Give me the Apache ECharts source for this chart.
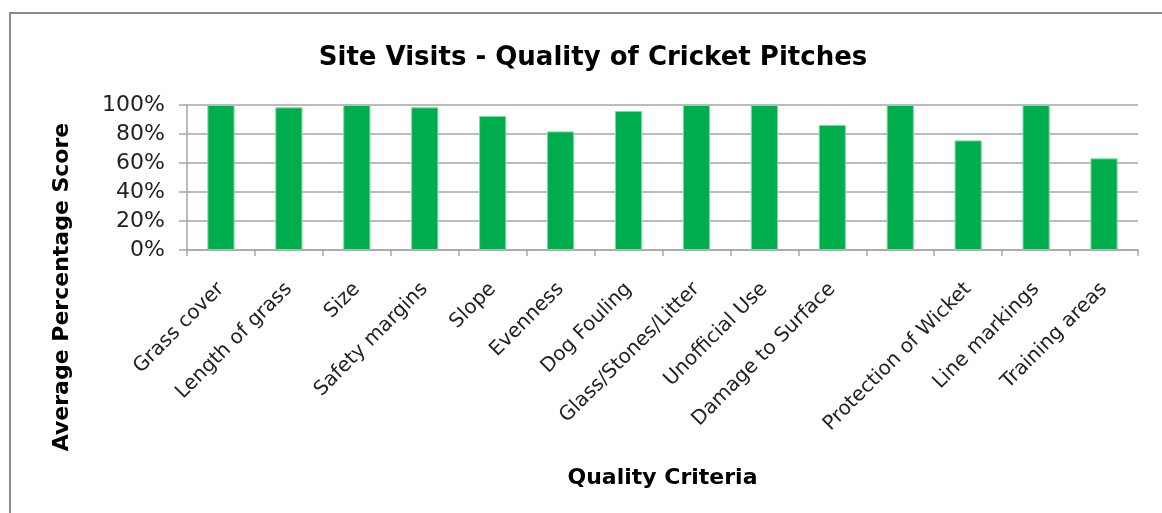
<!DOCTYPE html>
<html>
<head>
<meta charset="utf-8">
<script src="https://cdn.jsdelivr.net/npm/echarts@6/dist/echarts.min.js"></script>
<style>
html,body{margin:0;padding:0;background:#fff;}
#chart{width:1162px;height:513px;}
</style>
</head>
<body>
<div id="chart"></div>
<script>
const categories = ["Grass cover","Length of grass","Size","Safety margins","Slope","Evenness","Dog Fouling","Glass/Stones/Litter","Unofficial Use","Damage to Surface","","Protection of Wicket","Line markings","Training areas"];
const scores = [100, 98.4, 100, 98.4, 92.4, 81.8, 95.9, 100, 100, 86.2, 100, 75.6, 100, 63.2];
const yTicks = [0, 20, 40, 60, 80, 100];

const chart = echarts.init(document.getElementById('chart'));
const FONT = 'DejaVu Sans';
chart.setOption({
  animation: false,
  backgroundColor: '#fff',
  graphic: [{
    type: 'rect',
    shape: {x: 10, y: 13, width: 1300, height: 700},
    style: {fill: 'none', stroke: '#8c8c8c', lineWidth: 2},
    silent: true, z: -1
  }, {
    type: 'text',
    x: 62, y: 287, rotation: Math.PI / 2,
    style: {
      text: 'Average Percentage Score',
      font: 'bold 22px "DejaVu Sans"', fill: '#000',
      align: 'center', verticalAlign: 'middle'
    },
    silent: true
  }],
  title: {
    text: 'Site Visits - Quality of Cricket Pitches',
    left: 588, top: 40, textAlign: 'center',
    textStyle: {fontFamily: FONT, fontSize: 26, fontWeight: 'bold', color: '#000'}
  },
  grid: {left: 187, right: 24, top: 105, bottom: 263, containLabel: false},
  xAxis: {
    type: 'category',
    data: categories,
    name: 'Quality Criteria',
    nameLocation: 'middle',
    nameGap: 217,
    nameTextStyle: {fontFamily: FONT, fontSize: 22, fontWeight: 'bold', color: '#000'},
    axisLine: {lineStyle: {color: '#a6a6a6', width: 1.5}},
    axisTick: {show: true, length: 6, lineStyle: {color: '#a6a6a6', width: 1.5}},
    axisLabel: {rotate: 45, interval: 0, margin: 36, fontFamily: FONT, fontSize: 20, color: '#222'}
  },
  yAxis: {
    type: 'value',
    min: 0, max: 100, interval: 20,
    axisLine: {show: true, lineStyle: {color: '#a6a6a6', width: 1.5}},
    axisTick: {show: true, length: 8, lineStyle: {color: '#a6a6a6', width: 1.5}},
    splitLine: {lineStyle: {color: '#a6a6a6', width: 1.5}},
    axisLabel: {
      margin: 22, fontFamily: FONT, fontSize: 22, color: '#222',
      formatter: v => yTicks.includes(v) ? v + '%' : ''
    }
  },
  series: [{
    type: 'bar',
    data: scores,
    barWidth: '40%',
    itemStyle: {color: '#00ad4d', borderColor: '#7fd9a5', borderWidth: 1}
  }]
});
</script>
</body>
</html>
